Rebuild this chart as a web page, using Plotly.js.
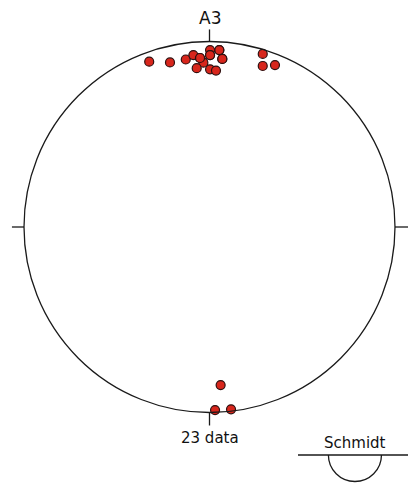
<!DOCTYPE html>
<html><head><meta charset="utf-8">
<script src="https://cdn.plot.ly/plotly-3.0.1.min.js"></script>
<style>html,body{margin:0;padding:0;background:#fff}#chart{width:408px;height:484px}</style>
</head><body><div id="chart"></div>
<script>
// Projected pole positions on the unit stereonet (East, North), lower hemisphere, Schmidt net
const eastVals = [-0.325,-0.213,-0.128,-0.087,-0.051,-0.033,-0.069,0.003,0.003,0.053,0.069,0.003,0.035,0.287,0.287,0.353,0.003,-0.051,0.053,0.069,0.060,0.030,0.116];
const northVals = [0.891,0.887,0.903,0.927,0.911,0.886,0.856,0.954,0.927,0.954,0.906,0.850,0.843,0.933,0.868,0.873,0.927,0.911,0.954,0.906,-0.852,-0.987,-0.983];
const netLabel = "A3";
const countLabel = eastVals.length + " data";
const netType = "Schmidt";

const R = 1;
const k = 0.5523;
const sc = {cx: 0.784, cy: -1.229, r: 0.143};
const semi = `M ${sc.cx-sc.r},${sc.cy} C ${sc.cx-sc.r},${sc.cy-k*sc.r} ${sc.cx-k*sc.r},${sc.cy-sc.r} ${sc.cx},${sc.cy-sc.r} C ${sc.cx+k*sc.r},${sc.cy-sc.r} ${sc.cx+sc.r},${sc.cy-k*sc.r} ${sc.cx+sc.r},${sc.cy}`;
const lineStyle = {color:'#1a1a1a', width:1.3};
const fontFam = 'DejaVu Sans, Verdana, sans-serif';

const trace = {
  x: eastVals, y: northVals, type:'scatter', mode:'markers',
  marker:{size:9, color:'#d8261c', line:{color:'#2e1010', width:1.2}},
  hoverinfo:'skip'
};
const layout = {
  width:408, height:484, margin:{l:0,r:0,t:0,b:0},
  paper_bgcolor:'#fff', plot_bgcolor:'#fff', showlegend:false,
  xaxis:{range:[-1.1294,1.0701], visible:false, fixedrange:true},
  yaxis:{range:[-1.3854,1.2237], visible:false, fixedrange:true},
  shapes:[
    {type:'circle', xref:'x', yref:'y', x0:-R, x1:R, y0:-R, y1:R, line:lineStyle},
    {type:'line', x0:0, x1:0, y0:R, y1:1.065, line:lineStyle},
    {type:'line', x0:0, x1:0, y0:-R, y1:-1.07, line:lineStyle},
    {type:'line', x0:-R, x1:-1.065, y0:0, y1:0, line:lineStyle},
    {type:'line', x0:R, x1:1.08, y0:0, y1:0, line:lineStyle},
    {type:'line', x0:0.477, x1:1.08, y0:sc.cy, y1:sc.cy, line:lineStyle},
    {type:'path', path:semi, line:lineStyle}
  ],
  annotations:[
    {x:0, y:1.127, text:netLabel, showarrow:false, font:{family:fontFam, size:17, color:'#111'}},
    {x:0, y:-1.137, text:countLabel, showarrow:false, font:{family:fontFam, size:15, color:'#111'}},
    {x:sc.cx, y:-1.164, text:netType, showarrow:false, font:{family:fontFam, size:15, color:'#111'}}
  ]
};
Plotly.newPlot('chart',[trace],layout,{displayModeBar:false,staticPlot:true});
</script></body></html>
